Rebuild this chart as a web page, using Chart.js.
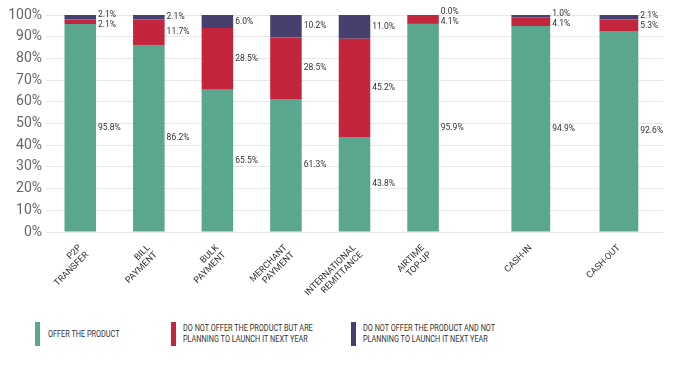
<!DOCTYPE html>
<html>
<head>
<meta charset="utf-8">
<script src="https://cdn.jsdelivr.net/npm/chart.js@4/dist/chart.umd.min.js"></script>
<style>
body{margin:0;background:#fff;font-family:Roboto,sans-serif;}
#wrap{position:relative;width:691px;height:366px;}
#box{position:absolute;left:0;top:0;width:691px;height:300px;}
.sw{position:absolute;top:322px;width:5px;height:24px;}
.lt{position:absolute;font-size:8.8px;line-height:11px;color:#333;white-space:nowrap;transform:scaleX(0.83);transform-origin:0 0;}
</style>
</head>
<body>
<div id="wrap">
  <div id="box"><canvas id="myChart"></canvas></div>

  <div class="sw" style="left:35px;background:#5ba68f"></div>
  <div class="lt" style="left:48px;top:329px">OFFER THE PRODUCT</div>

  <div class="sw" style="left:171px;background:#c3253c"></div>
  <div class="lt" style="left:183px;top:323px">DO NOT OFFER THE PRODUCT BUT ARE<br>PLANNING TO LAUNCH IT NEXT YEAR</div>

  <div class="sw" style="left:351px;background:#47406e"></div>
  <div class="lt" style="left:363px;top:323px">DO NOT OFFER THE PRODUCT AND NOT<br>PLANNING TO LAUNCH IT NEXT YEAR</div>
</div>

<script>
// categories (first six sit on the main axis, the cash ones on their own axis)
var categories = [['P2P','TRANSFER'], ['BILL','PAYMENT'], ['BULK','PAYMENT'], ['MERCHANT','PAYMENT'],
                  ['INTERNATIONAL','REMITTANCE'], ['AIRTIME','TOP-UP'], 'CASH-IN', 'CASH-OUT'];
var offerProduct   = [95.8, 86.2, 65.5, 61.3, 43.8, 95.9, 94.9, 92.6];
var planningLaunch = [2.1, 11.7, 28.5, 28.5, 45.2, 4.1, 4.1, 5.3];
var notPlanning    = [2.1, 2.1, 6.0, 10.2, 11.0, 0.0, 1.0, 2.1];
var yTicks = [0, 10, 20, 30, 40, 50, 60, 70, 80, 90, 100];

var mainCount = 6;
var colors = ['#5ba68f', '#c3253c', '#47406e'];
var seriesNames = ['Offer the product', 'Planning next year', 'Not planning'];
var series = [offerProduct, planningLaunch, notPlanning];

// main axis: 6 categories + 3 empty slots, cash axis: 5 empty slots + 2 categories
var mainAxisLabels = categories.slice(0, mainCount).concat(['', '', '']);
var cashAxisLabels = ['', '', '', '', ''].concat(categories.slice(mainCount));

var datasets = [];
series.forEach(function(vals, s){
    datasets.push({
        label: seriesNames[s],
        data: vals.slice(0, mainCount),
        backgroundColor: colors[s],
        xAxisID: 'x',
        grouped: false,
        barPercentage: 0.46,
        categoryPercentage: 1
    });
});
series.forEach(function(vals, s){
    datasets.push({
        label: seriesNames[s],
        data: [null, null, null, null, null].concat(vals.slice(mainCount)),
        backgroundColor: colors[s],
        xAxisID: 'x2',
        grouped: false,
        barPercentage: 0.44,
        categoryPercentage: 1
    });
});

// put the cash axis on the same band as the main axis
var alignCashAxis = {
    id: 'alignCashAxis',
    afterLayout: function(chart){
        var a = chart.scales.x, b = chart.scales.x2;
        b.top = a.top;
        b.bottom = a.bottom;
        b.height = a.height;
    }
};

// value labels right of each segment
var segLabels = {
    id: 'segLabels',
    afterDatasetsDraw: function(chart){
        var ctx = chart.ctx;
        var cols = {};
        chart.data.datasets.forEach(function(ds, di){
            var meta = chart.getDatasetMeta(di);
            meta.data.forEach(function(bar, i){
                var v = ds.data[i];
                if (v == null) return;
                var key = ds.xAxisID + '_' + i;
                (cols[key] = cols[key] || []).push({
                    x: bar.x + bar.width / 2 + 2,
                    y: (bar.y + bar.base) / 2,
                    text: v.toFixed(1) + '%'
                });
            });
        });
        ctx.save();
        ctx.font = '8.5px Roboto';
        ctx.fillStyle = '#333';
        ctx.textAlign = 'left';
        ctx.textBaseline = 'middle';
        Object.keys(cols).forEach(function(k){
            var list = cols[k];
            for (var j = 1; j < list.length; j++) {
                var gap = list[j-1].y - list[j].y;
                if (gap < 10) {
                    var d = (10 - gap) / 2;
                    list[j-1].y += d;
                    list[j].y -= d;
                }
            }
            list.forEach(function(l){ ctx.fillText(l.text, l.x, l.y); });
        });
        ctx.restore();
    }
};

var xTickOpts = {
    autoSkip: false,
    minRotation: 45,
    maxRotation: 45,
    padding: 3,
    color: '#333',
    font: {family: 'Roboto', size: 9, lineHeight: 1.1},
};

var ctx = document.getElementById('myChart').getContext('2d');
var chart = new Chart(ctx, {
    type: 'bar',
    data: { datasets: datasets },
    plugins: [alignCashAxis, segLabels],
    options: {
        responsive: true,
        maintainAspectRatio: false,
        animation: false,
        layout: { padding: { top: 15, right: 28, left: 0, bottom: 0 } },
        plugins: { legend: { display: false }, tooltip: { enabled: false } },
        scales: {
            x: {
                type: 'category',
                labels: mainAxisLabels,
                stacked: true,
                grid: { display: false },
                border: { display: false },
                ticks: xTickOpts,
                afterFit: function(scale){ scale.height = 68; }
            },
            x2: {
                type: 'category',
                position: 'bottom',
                labels: cashAxisLabels,
                stacked: true,
                grid: { display: false },
                border: { display: false },
                ticks: xTickOpts,
                afterFit: function(scale){ scale.height = 0; }
            },
            y: {
                stacked: true,
                min: 0,
                max: 100,
                grid: { color: '#e6e6e6', drawTicks: false },
                border: { display: false },
                afterBuildTicks: function(scale){
                    scale.ticks = yTicks.map(function(v){ return {value: v}; });
                },
                afterFit: function(scale){ scale.width = 46; },
                ticks: {
                    padding: 4,
                    color: '#666',
                    font: {family: 'Roboto', size: 14},
                    callback: function(v){ return v + '%'; }
                }
            }
        }
    }
});
</script>
</body>
</html>
